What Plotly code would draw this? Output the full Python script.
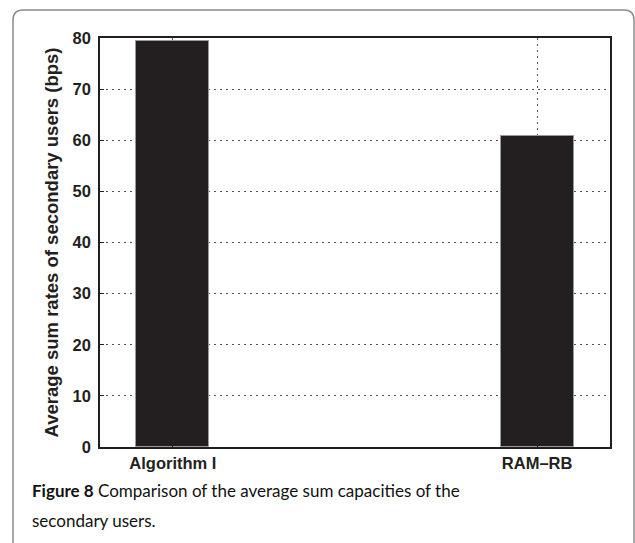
import plotly.graph_objects as go

# Average sum rates (bps) per scheme
schemes = ["Algorithm I", "RAM\u2013RB"]
avg_sum_rates = [79.5, 60.9]
y_ticks = [0, 10, 20, 30, 40, 50, 60, 70, 80]

W, H = 635, 543
L, R, T, B = 100, 25, 38, 96
PW, PH = W - L - R, H - T - B


def px(x):
    return (x - L) / PW


def py(y):
    return (H - B - y) / PH


fig = go.Figure()
fig.add_trace(go.Bar(
    x=[1, 2],
    y=avg_sum_rates,
    width=0.2,
    marker=dict(color="#231f20", line=dict(color="#9a9a9a", width=1)),
    hoverinfo="skip",
))

axis_font = dict(family="Liberation Sans, Arial, sans-serif", size=16.5, color="#231f20")
grid_style = dict(showgrid=True, gridcolor="#555", griddash="1.5px,4.5px", gridwidth=1)
frame_style = dict(showline=True, linecolor="#231f20", linewidth=1.5, mirror=True,
                   ticks="inside", ticklen=4, tickcolor="#231f20", zeroline=False)

fig.update_xaxes(
    range=[0.8, 2.2],
    tickvals=[1, 2],
    ticktext=[f"<b>{s}</b>" for s in schemes],
    tickfont=axis_font,
    **grid_style, **frame_style,
)
fig.update_yaxes(
    range=[0, 80],
    tickvals=y_ticks,
    ticktext=[f"<b>{v}</b>" for v in y_ticks],
    tickfont=axis_font,
    ticklabelstandoff=4,
    **grid_style, **frame_style,
    title=dict(
        text="<b>Average sum rates of secondary users (bps)</b>",
        font=dict(family="Liberation Sans, Arial, sans-serif", size=18.5, color="#231f20"),
        standoff=9,
    ),
)

# Framed panel around figure and caption
x0, y0, x1, y1, r = px(13), py(10), px(634), py(560), 10
rx, ry = r / PW, r / PH
path = (
    f"M {x0},{y1} L {x0},{y0 - ry} Q {x0},{y0} {x0 + rx},{y0} "
    f"L {x1 - rx},{y0} Q {x1},{y0} {x1},{y0 - ry} L {x1},{y1}"
)
fig.add_shape(type="path", path=path, xref="paper", yref="paper",
              line=dict(color="#8a8a8a", width=1.5))

caption_font = dict(family="Lato, Open Sans, sans-serif", size=17, color="#111111")
fig.add_annotation(
    xref="paper", yref="paper", x=px(30), y=py(490),
    xanchor="left", yanchor="middle", showarrow=False, align="left",
    text="<b>Figure 8</b> Comparison of the average sum capacities of the",
    font=caption_font,
)
fig.add_annotation(
    xref="paper", yref="paper", x=px(30), y=py(520),
    xanchor="left", yanchor="middle", showarrow=False, align="left",
    text="secondary users.",
    font=caption_font,
)

fig.update_layout(
    width=W, height=H,
    margin=dict(l=L, r=R, t=T, b=B),
    paper_bgcolor="white", plot_bgcolor="white",
    showlegend=False,
    bargap=0,
)

fig.write_html("out.html")
